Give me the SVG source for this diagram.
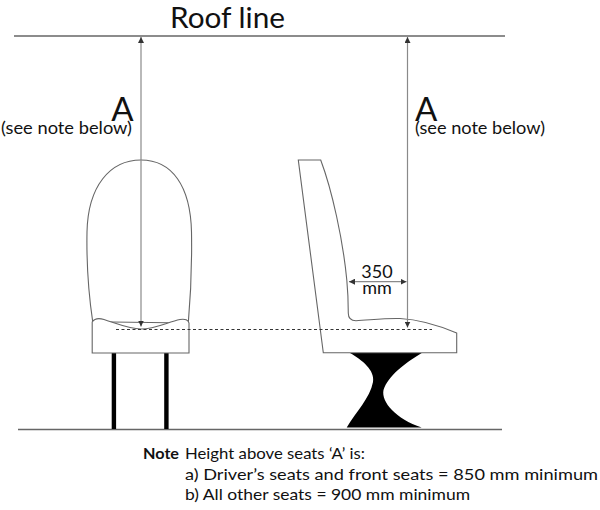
<svg xmlns="http://www.w3.org/2000/svg" width="600" height="510" viewBox="0 0 600 510">
<defs>
<marker id="ah" viewBox="0 0 10 10" refX="10" refY="5" markerWidth="6" markerHeight="6" markerUnits="userSpaceOnUse" orient="auto-start-reverse">
<path d="M0,0 L10,5 L0,10 Z" fill="#333"/>
</marker>
<style>
.lbl{font-family:Lato,"Liberation Sans",sans-serif;fill:#111}
.outline{fill:#fff;stroke:#666;stroke-width:1.1}
.dim{stroke:#8a8a8a;stroke-width:1.2;fill:none}
.ref{stroke:#666;stroke-width:1.6;fill:none}
</style>
</defs>
<rect width="600" height="510" fill="#fff"/>
<g id="roof">
<line class="ref" x1="14" y1="36" x2="505" y2="36"/>
<text class="lbl" x="170" y="28" font-size="29" textLength="115" lengthAdjust="spacingAndGlyphs">Roof line</text>
</g>
<g id="floor">
<line class="ref" x1="18" y1="429.5" x2="502" y2="429.5"/>
</g>
<g id="seat-left">
<rect x="111.7" y="353" width="4.4" height="76" fill="#000"/>
<rect x="164.2" y="353" width="4.4" height="76" fill="#000"/>
<path class="outline" d="M92.7,321.7 C88,290 86.5,260 87,232 C88,186 110,160 141,160 C172,160 190.5,186 191.5,232 C192,262 191,292 188.3,323 Z"/>
<path class="outline" d="M92.2,322 C94.5,318.5 99,318 104,319.5 C118,324 130,329 141,329 C155,329 168,322 180,319.5 C185,318.5 188.5,320 189,323 L189,353 L92.2,353 Z"/>
</g>
<g id="seat-right">
<path fill="#000" d="M350,353 L421.7,353 C405,363 388,376 383.5,390 C381,402 396,419 421.7,427.5 L346.7,427.5 C356,412 370,398 373,382 C375,370 362,360 350,353 Z"/>
<path class="outline" d="M298.3,160 L320.7,160 C332,190 343,240 346.8,280 C348.3,296 348.3,305 348.3,313.3 C348.3,318 350.5,320.7 356,320.7 C370,320 385,318 400,318.5 C420,319.5 440,326 456.7,333 L456.7,352.7 L323.3,352.7 Z"/>
</g>
<g id="connectors">
<line class="dim" x1="141" y1="326.5" x2="141" y2="37" marker-start="url(#ah)" marker-end="url(#ah)"/>
<line class="dim" x1="407.5" y1="327.5" x2="407.5" y2="37" marker-start="url(#ah)" marker-end="url(#ah)"/>
<line class="dim" x1="349" y1="281.7" x2="406.5" y2="281.7" marker-start="url(#ah)" marker-end="url(#ah)"/>
<line x1="116" y1="329.5" x2="432" y2="329.5" stroke="#333" stroke-width="1.2" stroke-dasharray="3 2.5"/>
</g>
<g id="label-a-left">
<text class="lbl" x="133.5" y="120.5" font-size="33" text-anchor="end">A</text>
<text class="lbl" x="1" y="134" font-size="17" textLength="131" lengthAdjust="spacingAndGlyphs">(see note below)</text>
</g>
<g id="label-a-right">
<text class="lbl" x="415" y="120.5" font-size="33">A</text>
<text class="lbl" x="415" y="134" font-size="17" textLength="130" lengthAdjust="spacingAndGlyphs">(see note below)</text>
</g>
<g id="label-350">
<text class="lbl" x="377" y="278.3" font-size="18" text-anchor="middle">350</text>
<text class="lbl" x="377" y="294.3" font-size="18" text-anchor="middle">mm</text>
</g>
<g id="note">
<text class="lbl" x="143" y="458.5" font-size="16" font-weight="bold" textLength="36" lengthAdjust="spacingAndGlyphs">Note</text>
<text class="lbl" x="185" y="458.5" font-size="16" textLength="180" lengthAdjust="spacingAndGlyphs">Height above seats ‘A’ is:</text>
<text class="lbl" x="185" y="480" font-size="16" textLength="413" lengthAdjust="spacingAndGlyphs">a) Driver’s seats and front seats = 850 mm minimum</text>
<text class="lbl" x="185" y="500" font-size="16" textLength="285" lengthAdjust="spacingAndGlyphs">b) All other seats = 900 mm minimum</text>
</g>
</svg>
